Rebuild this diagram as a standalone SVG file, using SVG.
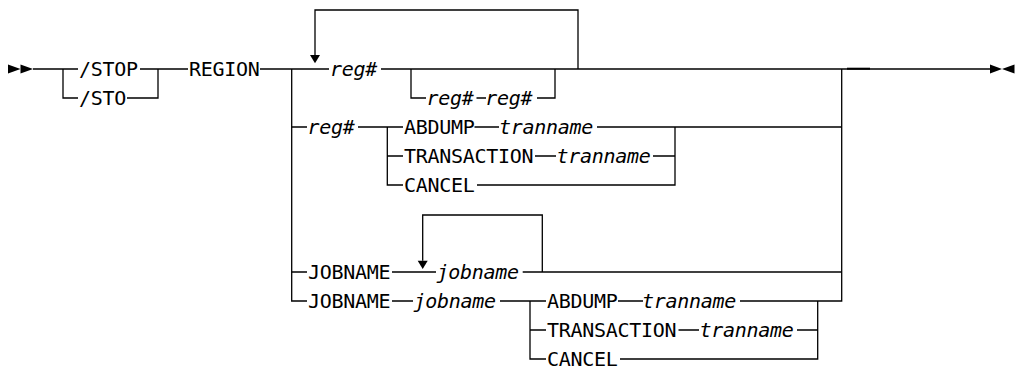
<svg xmlns="http://www.w3.org/2000/svg" width="1016" height="367" viewBox="0 0 1016 367">
<style>
.c{fill:none;stroke:#000;stroke-width:1.3}
.t{font-family:"DejaVu Sans Mono","Liberation Mono",monospace;font-size:20px;letter-spacing:-0.3px;fill:#000}
.i{font-style:italic}
.a{fill:#000;stroke:none}
</style>
<rect width="1016" height="367" fill="#fff"/>
<g id="connectors">
<polygon class="a" points="8,64.5 20.5,69 8,73.5"/>
<polygon class="a" points="20.5,64.5 33,69 20.5,73.5"/>
<path class="c" d="M33 69 H78 M63 69 V98 H78"/>
<path class="c" d="M140 69 H188 M127 98 H158 V69"/>
<path class="c" d="M260 69 H329"/>
<path class="c" d="M578 69 V10 H315 V55"/>
<polygon class="a" points="310,55 320,55 315,63.3"/>
<path class="c" d="M381 69 H990"/>
<path class="c" d="M847 68.7 H870" style="stroke-width:2"/>
<polygon class="a" points="990,64.5 1002,69 990,73.5"/>
<polygon class="a" points="1014.5,64.5 1002,69 1014.5,73.5"/>
<path class="c" d="M411 69 V98 H426 M476.5 98 H486 M537 98 H555 V69"/>
<path class="c" d="M291.7 69 V301 H307"/>
<path class="c" d="M291.7 127 H307 M358 127 H403 M387.3 127 V185 H403 M387.3 156 H403"/>
<path class="c" d="M474.5 127 H499 M597 127 H841.7"/>
<path class="c" d="M535 156 H556 M653 156 H675 M477 185 H675 V127"/>
<path class="c" d="M291.7 272 H307 M392 272 H436 M542.3 272 V215 H422.7 V260.7"/>
<polygon class="a" points="417.7,260.7 427.7,260.7 422.7,269"/>
<path class="c" d="M522.7 272 H841.7"/>
<path class="c" d="M392 301 H413 M500 301 H546 M530 301 V359 H546 M530 330 H546"/>
<path class="c" d="M618 301 H643 M740 301 H841.7 V69"/>
<path class="c" d="M678.5 330 H699 M797 330 H817.7 M620 359 H817.7 V301"/>
</g>
<g id="n-stop"><text class="t" x="79" y="76">/STOP</text></g>
<g id="n-sto"><text class="t" x="79" y="105">/STO</text></g>
<g id="n-region"><text class="t" x="189" y="76">REGION</text></g>
<g id="n-reg-repeat"><text class="t i" x="330" y="76">reg#</text></g>
<g id="n-reg-range"><text class="t i" x="426.5" y="105">reg#</text><text class="t i" x="485.2" y="105">reg#</text></g>
<g id="n-reg"><text class="t i" x="307.5" y="134">reg#</text></g>
<g id="n-abdump1"><text class="t" x="404" y="134">ABDUMP</text><text class="t i" x="499" y="134">tranname</text></g>
<g id="n-transaction1"><text class="t" x="404" y="163">TRANSACTION</text><text class="t i" x="556.5" y="163">tranname</text></g>
<g id="n-cancel1"><text class="t" x="404" y="192">CANCEL</text></g>
<g id="n-jobname1"><text class="t" x="308" y="279">JOBNAME</text><text class="t i" x="436.5" y="279">jobname</text></g>
<g id="n-jobname2"><text class="t" x="308" y="308">JOBNAME</text><text class="t i" x="413.5" y="308">jobname</text></g>
<g id="n-abdump2"><text class="t" x="547" y="308">ABDUMP</text><text class="t i" x="642" y="308">tranname</text></g>
<g id="n-transaction2"><text class="t" x="547" y="337">TRANSACTION</text><text class="t i" x="699.5" y="337">tranname</text></g>
<g id="n-cancel2"><text class="t" x="547" y="366">CANCEL</text></g>
</svg>
